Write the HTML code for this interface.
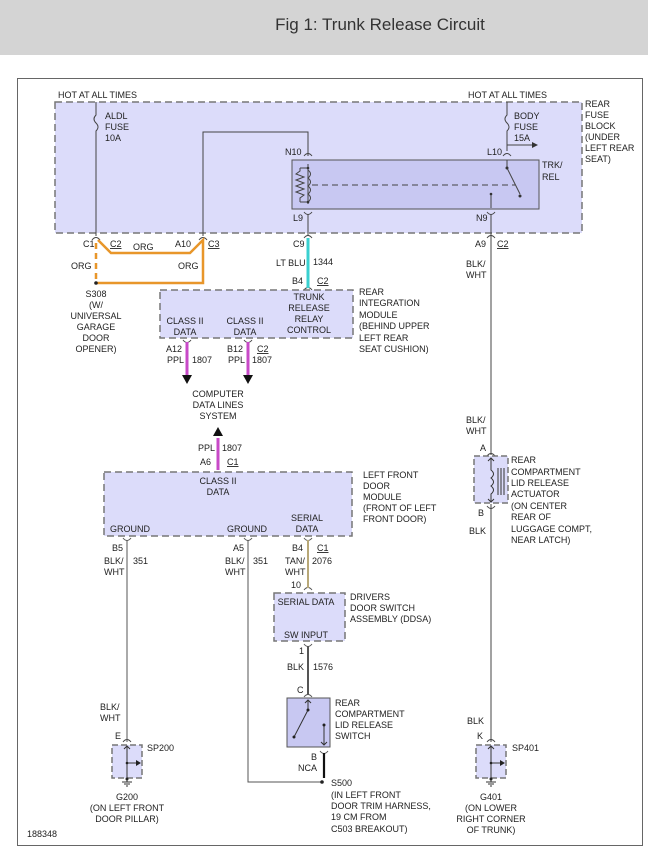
<!DOCTYPE html>
<html><head><meta charset="utf-8"><style>
html,body{margin:0;padding:0;background:#fff;}
svg text{font-family:"Liberation Sans",sans-serif;font-size:9px;fill:#222;}
</style></head><body>
<svg width="648" height="860" viewBox="0 0 648 860" xmlns="http://www.w3.org/2000/svg">
<rect x="0" y="0" width="648" height="55" fill="#d4d4d4"/>
<text x="380" y="30" text-anchor="middle" style="font-size:17px;fill:#333">Fig 1: Trunk Release Circuit</text>
<rect x="17.5" y="78.5" width="625" height="767" fill="#fff" stroke="#666" stroke-width="1"/>

<!-- rear fuse block -->
<rect x="55" y="102" width="527" height="131" fill="#dcdcfa" stroke="#777" stroke-dasharray="7,4" stroke-width="1.5"/>
<text x="58" y="98">HOT AT ALL TIMES</text>
<text x="468" y="98">HOT AT ALL TIMES</text>
<g><text x="585" y="107">REAR</text><text x="585" y="118">FUSE</text><text x="585" y="129">BLOCK</text><text x="585" y="140">(UNDER</text><text x="585" y="151">LEFT REAR</text><text x="585" y="162">SEAT)</text></g>
<rect x="292" y="160" width="247" height="49" fill="#c8c8f2" stroke="#555"/>

<g stroke="#444" fill="none" stroke-width="1">
<path d="M96 102 V115 q-4 4 0 8 q4 4 0 8 V236"/>
<path d="M203 236 V132 H308 V156"/>
<path d="M308 164 V204"/>
<path d="M308 214 V236"/>
<path d="M300 168 H308 M300 202 H308 M300 168 v3 l-4 3 l8 3 l-8 3 l8 3 l-8 3 l8 3 l-8 3 l8 3 l-4 3 v4"/>
<path d="M308 170 q5 4 0 8 q5 4 0 8 q5 4 0 8 q5 4 0 8"/>
<path d="M312 185 H515" stroke-dasharray="6,4"/>
<path d="M507 102 V115 q-4 4 0 8 q4 4 0 8 V151"/>
<path d="M507 145 H535"/>
<path d="M507 160 V168 L520 194"/>
<path d="M491 195 V208"/>
<path d="M491 214 V455"/>
<path d="M491 504 V742"/>
<path d="M92 240 q4 -5 8 0 M199 240 q4 -5 8 0 M304 238 q4 -5 8 0 M304 156 q4 -5 8 0 M503 156 q4 -5 8 0 M487 238 q4 -5 8 0"/>
<path d="M304 212 q4 5 8 0 M487 212 q4 5 8 0 M304 290 q4 -5 8 0"/>
<path d="M487 456 q4 -5 8 0 M487 506 q4 5 8 0 M487 742 q4 -5 8 0 M123 742 q4 -5 8 0"/>
</g>
<g fill="#333">
<path d="M532 142 l6 3 l-6 3z"/>
<circle cx="507" cy="168" r="1.5"/><circle cx="520" cy="196" r="1.5"/><circle cx="491" cy="194" r="1.3"/>
<circle cx="308" cy="168" r="1.3"/><circle cx="308" cy="202" r="1.3"/>
</g>
<text x="105" y="119">ALDL</text><text x="105" y="130">FUSE</text><text x="105" y="141">10A</text>
<text x="514" y="119">BODY</text><text x="514" y="130">FUSE</text><text x="514" y="141">15A</text>
<text x="285" y="155">N10</text><text x="487" y="155">L10</text>
<text x="293" y="221">L9</text><text x="476" y="221">N9</text>
<text x="542" y="168">TRK/</text><text x="542" y="180">REL</text>

<g stroke="#e8962a" stroke-width="2.5" fill="none">
<path d="M98 240 L111 253 H190 L203 240 V283 H96"/>
<path d="M96 243 V280" stroke-dasharray="6,4"/>
</g>
<circle cx="96" cy="283" r="1.8" fill="#222"/>
<text x="83" y="247">C1</text><text x="110" y="247" text-decoration="underline">C2</text><text x="133" y="250">ORG</text>
<text x="175" y="247">A10</text><text x="208" y="247" text-decoration="underline">C3</text>
<text x="71" y="269">ORG</text><text x="178" y="269">ORG</text>
<g text-anchor="middle"><text x="96" y="297">S308</text><text x="96" y="308">(W/</text><text x="96" y="319">UNIVERSAL</text><text x="96" y="330">GARAGE</text><text x="96" y="341">DOOR</text><text x="96" y="352">OPENER)</text></g>

<path d="M308 238 V288" stroke="#3ad0d0" stroke-width="3"/>
<text x="293" y="247">C9</text><text x="276" y="266">LT BLU</text><text x="313" y="265">1344</text>
<text x="292" y="284">B4</text><text x="317" y="284" text-decoration="underline">C2</text>
<text x="475" y="247">A9</text><text x="497" y="247" text-decoration="underline">C2</text>
<text x="466" y="267">BLK/</text><text x="466" y="278">WHT</text>

<rect x="160" y="290" width="193" height="48" fill="#dcdcfa" stroke="#777" stroke-dasharray="7,4" stroke-width="1.5"/>
<g text-anchor="middle"><text x="185" y="324">CLASS II</text><text x="185" y="335">DATA</text><text x="245" y="324">CLASS II</text><text x="245" y="335">DATA</text>
<text x="309" y="300">TRUNK</text><text x="309" y="311">RELEASE</text><text x="309" y="322">RELAY</text><text x="309" y="333">CONTROL</text></g>
<g><text x="359" y="295">REAR</text><text x="359" y="306">INTEGRATION</text><text x="359" y="318">MODULE</text><text x="359" y="329">(BEHIND UPPER</text><text x="359" y="341">LEFT REAR</text><text x="359" y="352">SEAT CUSHION)</text></g>
<path d="M183 340 q4 5 8 0 M244 340 q4 5 8 0" stroke="#444" fill="none"/>
<g stroke="#c84ac8" stroke-width="3"><path d="M187 342 V376"/><path d="M248 342 V376"/><path d="M218 438 V470"/></g>
<g fill="#111"><path d="M182 375 h10 l-5 9z"/><path d="M243 375 h10 l-5 9z"/><path d="M213 436 h10 l-5 -9z"/></g>
<text x="166" y="352">A12</text><text x="167" y="363">PPL</text><text x="192" y="363">1807</text>
<text x="227" y="352">B12</text><text x="257" y="352" text-decoration="underline">C2</text><text x="228" y="363">PPL</text><text x="252" y="363">1807</text>
<g text-anchor="middle"><text x="218" y="397">COMPUTER</text><text x="218" y="408">DATA LINES</text><text x="218" y="419">SYSTEM</text></g>
<text x="198" y="451">PPL</text><text x="222" y="451">1807</text><text x="200" y="465">A6</text><text x="227" y="465" text-decoration="underline">C1</text>

<rect x="104" y="472" width="248" height="64" fill="#dcdcfa" stroke="#777" stroke-dasharray="7,4" stroke-width="1.5"/>
<g text-anchor="middle"><text x="218" y="484">CLASS II</text><text x="218" y="495">DATA</text>
<text x="130" y="532">GROUND</text><text x="247" y="532">GROUND</text><text x="307" y="521">SERIAL</text><text x="307" y="532">DATA</text></g>
<g><text x="363" y="478">LEFT FRONT</text><text x="363" y="489">DOOR</text><text x="363" y="500">MODULE</text><text x="363" y="511">(FRONT OF LEFT</text><text x="363" y="522">FRONT DOOR)</text></g>
<g stroke="#555" fill="none">
<path d="M123 538 q4 5 8 0 M244 538 q4 5 8 0 M304 538 q4 5 8 0"/>
<path d="M127 540 V742"/><path d="M248 540 V782 H322"/>
<path d="M304 590 q4 -5 8 0 M304 644 q4 5 8 0 M304 697 q4 -5 8 0 M320 751 q4 5 8 0"/>
</g>
<path d="M308 540 V588" stroke="#b8a878" stroke-width="2"/>
<text x="112" y="551">B5</text><text x="104" y="564">BLK/</text><text x="104" y="575">WHT</text><text x="133" y="564">351</text>
<text x="233" y="551">A5</text><text x="225" y="564">BLK/</text><text x="225" y="575">WHT</text><text x="253" y="564">351</text>
<text x="292" y="551">B4</text><text x="317" y="551" text-decoration="underline">C1</text><text x="285" y="564">TAN/</text><text x="285" y="575">WHT</text><text x="312" y="564">2076</text>
<text x="291" y="588">10</text>

<rect x="274" y="593" width="71" height="48" fill="#dcdcfa" stroke="#777" stroke-dasharray="7,4" stroke-width="1.5"/>
<g text-anchor="middle"><text x="306" y="605">SERIAL DATA</text><text x="306" y="638">SW INPUT</text></g>
<text x="350" y="600">DRIVERS</text><text x="350" y="611">DOOR SWITCH</text><text x="350" y="622">ASSEMBLY (DDSA)</text>
<path d="M308 646 V695" stroke="#555" stroke-width="2"/>
<text x="299" y="654">1</text><text x="287" y="670">BLK</text><text x="313" y="670">1576</text>
<text x="297" y="693">C</text>

<rect x="287" y="698" width="43" height="49" fill="#c8c8f2" stroke="#555"/>
<g stroke="#333" fill="none"><path d="M308 700 V710 L294 737"/><path d="M324 725 V745"/><path d="M305 703 l3 -3 l3 3 M321 742 l3 3 l3 -3"/></g>
<g fill="#222"><circle cx="308" cy="710" r="1.5"/><circle cx="294" cy="737" r="1.5"/><circle cx="324" cy="725" r="1.5"/><circle cx="322" cy="782" r="1.8"/></g>
<path d="M324 753 V778" stroke="#111" stroke-width="2.2"/>
<text x="335" y="706">REAR</text><text x="335" y="717">COMPARTMENT</text><text x="335" y="728">LID RELEASE</text><text x="335" y="739">SWITCH</text>
<text x="311" y="760">B</text><text x="298" y="771">NCA</text>
<text x="331" y="786">S500</text><text x="331" y="798">(IN LEFT FRONT</text><text x="331" y="809">DOOR TRIM HARNESS,</text><text x="331" y="820">19 CM FROM</text><text x="331" y="832">C503 BREAKOUT)</text>

<rect x="474" y="456" width="34" height="47" fill="#dcdcfa" stroke="#777" stroke-dasharray="6,3" stroke-width="1.5"/>
<g stroke="#333" fill="none"><path d="M491 458 V470 q5 4 0 8 q5 4 0 8 q5 4 0 8 V502"/><path d="M498 468 V495 M501 468 V495 M504 468 V495"/><path d="M488 461 l3 -3 l3 3 M488 499 l3 3 l3 -3"/></g>
<text x="480" y="451">A</text><text x="466" y="423">BLK/</text><text x="466" y="434">WHT</text>
<text x="511" y="463">REAR</text><text x="511" y="475">COMPARTMENT</text><text x="511" y="486">LID RELEASE</text><text x="511" y="497">ACTUATOR</text><text x="511" y="509">(ON CENTER</text><text x="511" y="520">REAR OF</text><text x="511" y="532">LUGGAGE COMPT,</text><text x="511" y="543">NEAR LATCH)</text>
<text x="478" y="516">B</text><text x="469" y="534">BLK</text>
<text x="467" y="724">BLK</text><text x="477" y="739">K</text>
<text x="100" y="710">BLK/</text><text x="100" y="721">WHT</text><text x="115" y="739">E</text>

<g>
<rect x="112" y="745" width="30" height="33" fill="#dcdcfa" stroke="#777" stroke-dasharray="6,3" stroke-width="1.5"/>
<rect x="476" y="745" width="30" height="33" fill="#dcdcfa" stroke="#777" stroke-dasharray="6,3" stroke-width="1.5"/>
<g stroke="#333" fill="none">
<path d="M127 746 V782 M127 763 H137 M124 749 l3 -3 l3 3 M122 782 h10 M124 784 h6 M126 786 h2"/>
<path d="M491 746 V782 M491 763 H501 M488 749 l3 -3 l3 3 M486 782 h10 M488 784 h6 M490 786 h2"/>
</g>
<g fill="#222"><path d="M136 760 l5 3 l-5 3z"/><path d="M500 760 l5 3 l-5 3z"/><circle cx="127" cy="763" r="1.3"/><circle cx="491" cy="763" r="1.3"/><circle cx="127" cy="779" r="1.5"/><circle cx="491" cy="779" r="1.5"/></g>
</g>
<text x="147" y="751">SP200</text><text x="512" y="751">SP401</text>
<g text-anchor="middle"><text x="127" y="800">G200</text><text x="127" y="811">(ON LEFT FRONT</text><text x="127" y="822">DOOR PILLAR)</text>
<text x="491" y="800">G401</text><text x="491" y="811">(ON LOWER</text><text x="491" y="822">RIGHT CORNER</text><text x="491" y="833">OF TRUNK)</text></g>
<text x="27" y="837">188348</text>
</svg>
</body></html>
